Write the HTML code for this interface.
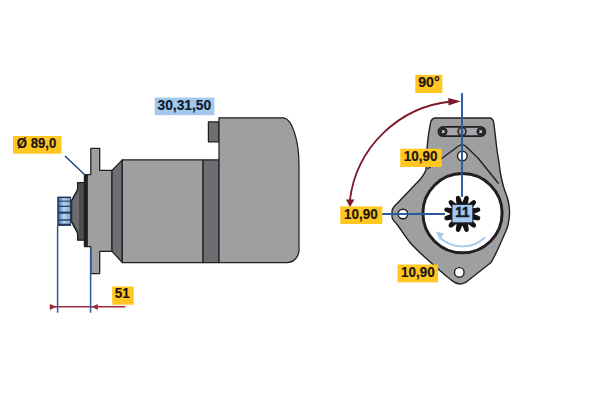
<!DOCTYPE html>
<html>
<head>
<meta charset="utf-8">
<style>
html,body{margin:0;padding:0;background:#ffffff;}
body{width:600px;height:400px;overflow:hidden;font-family:"Liberation Sans",sans-serif;}
svg{display:block;position:absolute;left:0;top:0;}
text{font-family:"Liberation Sans",sans-serif;font-weight:bold;fill:#1c1512;font-size:14px;stroke:#1c1512;stroke-width:0.200px;}
</style>
</head>
<body>
<svg width="600" height="400" viewBox="0 0 600 400">
<rect width="600" height="400" fill="#ffffff"/>

<!-- ================= LEFT: side view ================= -->
<g stroke="#231f20" stroke-width="1.250" stroke-linejoin="round">
  <!-- pinion -->
  <rect x="57.700" y="197" width="13" height="28.500" fill="#223a5e" stroke="#1b2f4f" stroke-width="0.800"/>
  <!-- hub -->
  <path d="M84.600 182.600 H77.600 V188.500 C77 192 73.500 195.500 72.300 199.500 L71.200 200.500 V221.800 L72.300 223 C73.500 227 77 230.500 77.600 234 V240.200 H84.600 Z" fill="#4e4e50"/>
  <path d="M79 189.500 C78.400 192.500 75 196 73.600 200 L72.600 201 V221.300 L73.600 222.500 C75 226.500 78.400 230 79 233 Z" fill="#6c6d70" stroke="none"/>
  <!-- flange plate -->
  <path d="M90.800 148.400 H99.700 V170.400 H112 V251.300 H99.700 V273.500 H90.800 V246.500 H87 V174.500 H90.800 Z" fill="#9e9fa1"/>
  <!-- black collar -->
  <rect x="84.400" y="174.500" width="2.600" height="72" fill="#231f20"/>
  <!-- chamfer -->
  <path d="M112 170.400 L122.300 159.900 V262.600 L112 251.300 Z" fill="#6d6e71"/>
  <!-- main body -->
  <path d="M122.300 159.900 H203 V262.600 H122.300 Z" fill="#9e9fa1"/>
  <!-- dark band -->
  <rect x="203" y="159.900" width="16" height="102.700" fill="#6d6e71"/>
  <!-- terminal -->
  <rect x="208.400" y="121.800" width="10.600" height="20" fill="#6d6e71"/>
  <!-- solenoid/rear body -->
  <path d="M219 117.800 H284 C292 119.300 299 140 299 165 V250.100 A12.500 12.500 0 0 1 286.500 262.600 H219 Z" fill="#9e9fa1"/>
</g>
<!-- pinion stripes -->
<defs>
  <linearGradient id="pg" x1="0" y1="0" x2="1" y2="0">
    <stop offset="0" stop-color="#4d7fbd"/>
    <stop offset="0.45" stop-color="#b9d5f1"/>
    <stop offset="1" stop-color="#7ba7d8"/>
  </linearGradient>
</defs>
<g fill="url(#pg)">
  <rect x="58.800" y="198.100" width="11.300" height="2.500"/>
  <rect x="58.800" y="201.700" width="11.300" height="4"/>
  <rect x="58.800" y="206.900" width="11.300" height="4.700"/>
  <rect x="58.800" y="213.700" width="11.300" height="5.600"/>
  <rect x="58.800" y="220.700" width="11.300" height="3"/>
</g>

<!-- dimension lines left -->
<g stroke="#9b2a3a" stroke-width="1.500" fill="#9b2335">
  <line x1="50" y1="306.850" x2="125.500" y2="306.850"/>
  <path d="M49.800 303.900 L56.200 306.850 L49.800 309.900 Z" stroke="none"/>
  <path d="M97.800 303.900 L91.800 306.850 L97.800 309.900 Z" stroke="none"/>
</g>
<g stroke="#2b5a9c" stroke-width="1.500" fill="none">
  <line x1="57.600" y1="225.500" x2="57.600" y2="312.700"/>
  <line x1="90.600" y1="250" x2="90.600" y2="312.700"/>
  <line x1="65" y1="156" x2="85" y2="175" stroke="#24497a" stroke-width="1.600"/>
</g>

<!-- labels left -->
<rect x="13" y="136" width="48.500" height="17.700" fill="#ffc720"/>
<text transform="translate(16.800 147.600) scale(0.940 1)">&#216; 89,0</text>
<rect x="112.200" y="286.500" width="21.500" height="18.200" fill="#ffc720"/>
<text transform="translate(114.700 298.400) scale(0.960 1)">51</text>
<rect x="154.700" y="97.600" width="59.700" height="17.600" fill="#a3c8ea"/>
<text transform="translate(157.500 109.900) scale(0.985 1)" style="fill:#0f1a2c;stroke:#0f1a2c">30,31,50</text>

<!-- ================= RIGHT: front view ================= -->
<g stroke="#231f20" stroke-width="1.400" stroke-linejoin="round">
  <!-- outer plate + bracket -->
  <path d="M430.5 123.2 Q431.3 118 435.8 118 H489.2 Q493.2 118 493.8 123.2 C494.10 125.50 495.07 133.50 495.60 138.00 C496.13 142.50 496.43 145.83 497.00 150.00 C497.57 154.17 498.38 158.83 499.00 163.00 C499.62 167.17 499.96 170.92 500.75 175.00 C501.54 179.08 502.54 183.33 503.75 187.50 C504.96 191.67 507.02 195.83 508.00 200.00 C508.98 204.17 509.60 208.33 509.60 212.50 C509.60 216.67 508.68 221.75 508.00 225.00 C507.32 228.25 505.92 230.83 505.50 232.00 C504.17 235.00 499.67 245.33 497.50 250.00 C495.33 254.67 493.58 257.92 492.50 260.00 C491.42 262.08 491.25 262.08 491.00 262.50 L466.25 282 C465.62 282.27 463.67 283.28 462.50 283.60 C461.33 283.92 460.50 284.08 459.25 283.90 C458.00 283.72 456.46 283.23 455.00 282.50 C453.54 281.77 451.25 280.00 450.50 279.50 C449.58 278.75 447.58 277.21 445.00 275.00 C442.42 272.79 438.75 269.58 435.00 266.25 C431.25 262.92 426.67 258.96 422.50 255.00 C418.33 251.04 414.17 247.50 410.00 242.50 C405.83 237.50 400.17 228.58 397.50 225.00 C394.83 221.42 394.58 221.67 394.00 221.00 Q392 219 392 216.5 V211.5 Q392 209 394 206.75 L420.75 178.75 C421.38 177.79 423.58 174.83 424.50 173.00 C425.42 171.17 425.80 172.08 426.25 167.75 C426.70 163.42 426.82 152.46 427.20 147.00 C427.57 141.54 427.95 139.00 428.50 135.00 C429.05 131.00 430.17 125.00 430.50 123.00 Z" fill="#9e9fa1"/>
  <!-- inner triangle outline -->
  <path d="M427.500 169 L458.500 146 Q462 143.800 465.500 146 L478 158 L498.500 183.500" fill="none"/>
  <!-- slot -->
  <rect x="438.400" y="126.900" width="46.900" height="9.300" rx="4.650" fill="#a4a6a9" stroke-width="1.800"/>
  <circle cx="443.300" cy="131.600" r="3.500" fill="#2c2b2d" stroke-width="1.400"/>
  <circle cx="480.700" cy="131.600" r="3.500" fill="#2c2b2d" stroke-width="1.400"/>
  <path d="M441.900 130.200 L444.700 133 M444.700 130.200 L441.900 133 M479.300 130.200 L482.100 133 M482.100 130.200 L479.300 133" stroke="#a9abad" stroke-width="1.100" fill="none"/>
  <circle cx="443.300" cy="131.600" r="0.900" fill="#e8e8e8" stroke="none"/>
  <circle cx="480.700" cy="131.600" r="0.900" fill="#e8e8e8" stroke="none"/>
  <circle cx="462" cy="131.600" r="4" fill="#96989b" stroke-width="1.500"/>
  <!-- big circle -->
  <circle cx="462.500" cy="213.200" r="39.600" fill="#ffffff" stroke-width="3"/>
  <!-- holes -->
  <circle cx="462.300" cy="156" r="4.800" fill="#ffffff"/>
  <circle cx="402.900" cy="214" r="4.800" fill="#ffffff"/>
  <circle cx="459.300" cy="272.400" r="4.800" fill="#ffffff"/>
</g>

<!-- gear -->
<path d="M463.00 202.42 L464.90 197.50 L466.02 196.39 L467.83 196.88 L468.25 198.40 L467.43 203.61 L468.65 204.31 L472.75 201.00 L474.28 200.60 L475.60 201.92 L475.20 203.45 L471.89 207.55 L472.59 208.77 L477.80 207.95 L479.32 208.37 L479.81 210.18 L478.70 211.30 L473.78 213.20 L473.78 214.60 L478.70 216.50 L479.81 217.62 L479.32 219.43 L477.80 219.85 L472.59 219.03 L471.89 220.25 L475.20 224.35 L475.60 225.88 L474.28 227.20 L472.75 226.80 L468.65 223.49 L467.43 224.19 L468.25 229.40 L467.83 230.92 L466.02 231.41 L464.90 230.30 L463.00 225.38 L461.60 225.38 L459.70 230.30 L458.58 231.41 L456.77 230.92 L456.35 229.40 L457.17 224.19 L455.95 223.49 L451.85 226.80 L450.32 227.20 L449.00 225.88 L449.40 224.35 L452.71 220.25 L452.01 219.03 L446.80 219.85 L445.28 219.43 L444.79 217.62 L445.90 216.50 L450.82 214.60 L450.82 213.20 L445.90 211.30 L444.79 210.18 L445.28 208.37 L446.80 207.95 L452.01 208.77 L452.71 207.55 L449.40 203.45 L449.00 201.92 L450.32 200.60 L451.85 201.00 L455.95 204.31 L457.17 203.61 L456.35 198.40 L456.77 196.88 L458.58 196.39 L459.70 197.50 L461.60 202.42 Z" fill="#131313" stroke="#131313" stroke-width="1.100" stroke-linejoin="round"/>

<!-- rotation arrow -->
<path d="M485 237.500 A33 33 0 0 1 441 238.500" fill="none" stroke="#a9cbea" stroke-width="1.900"/>
<path d="M435.800 231.500 L443.500 233.300 L440 240.500 Z" fill="#a9cbea"/>

<!-- blue lines right -->
<g stroke="#2b5a9c" stroke-width="1.900" fill="none">
  <line x1="462" y1="93" x2="462" y2="197"/>
  <line x1="380" y1="214" x2="445" y2="214"/>
</g>

<!-- 90 degree arc -->
<path d="M349.850 200.500 A113.100 113.100 0 0 1 452 101.500" fill="none" stroke="#7c1828" stroke-width="1.800"/>
<path d="M460.800 101.200 L448.200 98 L448.600 105.600 Z" fill="#7c1828"/>
<path d="M350 207.200 L346 199.600 L354.400 199.400 Z" fill="#7c1828"/>

<!-- labels right -->
<rect x="452" y="204.400" width="20.800" height="18.400" fill="#a3c8ea" stroke="#1a2438" stroke-width="0.900"/>
<text transform="translate(455.200 217.400) scale(0.960 1)" style="fill:#0f1a2c;stroke:#0f1a2c;stroke-width:0.550px">11</text>
<rect x="415.300" y="74.900" width="27" height="18.100" fill="#ffc720"/>
<text transform="translate(418.200 87.300) scale(1.010 1)">90&#176;</text>
<rect x="400.250" y="148.750" width="41.450" height="18.250" fill="#ffc720"/>
<text transform="translate(403.800 161.300) scale(0.960 1)">10,90</text>
<rect x="340.300" y="206.400" width="42" height="17.600" fill="#ffc720"/>
<text transform="translate(344.000 218.900) scale(0.960 1)">10,90</text>
<rect x="397.500" y="264.500" width="40.500" height="17.800" fill="#ffc720"/>
<text transform="translate(401.000 277.300) scale(0.960 1)">10,90</text>
</svg>
</body>
</html>
